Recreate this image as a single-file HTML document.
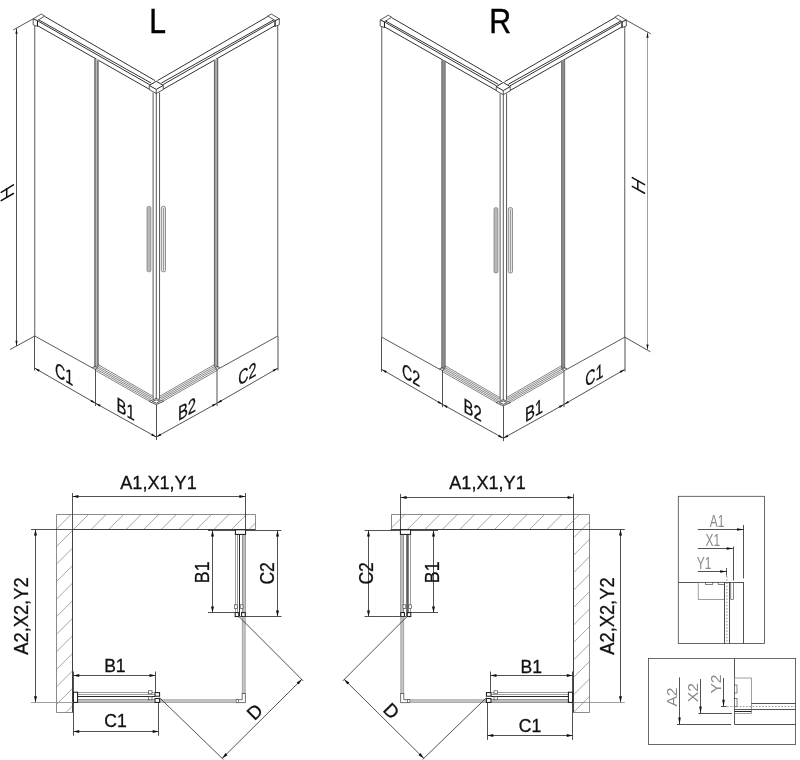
<!DOCTYPE html>
<html><head><meta charset="utf-8"><title>Shower enclosure dimensions</title>
<style>
html,body{margin:0;padding:0;background:#fff}
body{width:800px;height:760px;overflow:hidden}
svg{display:block;filter:grayscale(1)}
text{font-family:"Liberation Sans",sans-serif}
.t{fill:#111;stroke:#111;stroke-width:.3}
.tt{fill:#8a8a8a}
.big{fill:#000;stroke:#000;stroke-width:.45}
.e{stroke:#505050;stroke-width:.95;fill:none}
.e2{stroke:#333;stroke-width:1;fill:none}
.k{stroke:#111;stroke-width:.9;fill:none}
.k3{stroke:#5c5c5c;stroke-width:2.2;fill:none}
.k2{stroke:#333;stroke-width:.7;fill:#fff}
.kb{stroke:#111;stroke-width:1;fill:#fff}
.ks{stroke:#333;stroke-width:.6;fill:#fff}
.g{stroke:#6c6c6c;stroke-width:1.4;fill:none}
.g3{stroke:#7a7a7a;stroke-width:1.2;fill:none}
.g2{stroke:#777;stroke-width:.7;fill:none}
.r{stroke:#444;stroke-width:.65;fill:none}
.d{stroke:#333;stroke-width:.85;fill:none}
.d2{stroke:#888;stroke-width:.8;fill:none}
.w{stroke:#6e6e6e;stroke-width:.8;fill:none}
.h{stroke:#6a6a6a;stroke-width:.6;fill:none}
.hg{stroke:#111;stroke-width:1.5;fill:none;stroke-linecap:round}
.ah{fill:#111;stroke:none}
.fr{stroke:#444;stroke-width:.8;fill:none}
.fr2{stroke:#777;stroke-width:.7;fill:none}
.dt{stroke:#777;stroke-width:.8;stroke-dasharray:1.6 1.6;fill:none}
</style></head><body>
<svg width="800" height="760" viewBox="0 0 800 760">
<defs><clipPath id="wc2"><path d="M589.5 514.5 L391.5 514.5 L391.5 529.5 L573.5 529.5 L573.5 712.5 L589.5 712.5 Z"/></clipPath><clipPath id="wc"><path d="M56.5 514.5 L255.5 514.5 L255.5 529.5 L72.5 529.5 L72.5 712.5 L56.5 712.5 Z"/></clipPath></defs>
<rect width="800" height="760" fill="#fff"/>
<g id="isoL">
<g>
<path class="e" d="M33.2 18.8 L41.25 14 L44.7 16 L37.4 20.6 Z"/>
<path class="e" d="M33.2 18.8 L37.4 20.6 L37.4 26.4 L33.2 24.8 Z"/>
<line class="k" x1="37.5" y1="20.6" x2="37.5" y2="26.4"/>
<line class="e2" x1="44.6" y1="16.4" x2="155" y2="80.6"/>
<line class="e2" x1="38.4" y1="19.7" x2="151.2" y2="83.1"/>
<line class="e2" x1="38.2" y1="21.2" x2="149.6" y2="84.7"/>
<line class="e2" x1="37.4" y1="25.6" x2="149.6" y2="89.4"/>
<line class="e" x1="34.75" y1="25.3" x2="34.75" y2="336"/>
<line class="d" x1="34.5" y1="336" x2="34.5" y2="370.5"/>
<rect x="94.4" y="59" width="4.1" height="308.5" fill="#bcbcbc"/>
<line class="g" x1="95" y1="59" x2="95" y2="367.5"/>
<line class="g" x1="97.9" y1="60.5" x2="97.9" y2="366"/>
<line class="e" x1="34.75" y1="336" x2="93" y2="368.3"/>
<line class="r" x1="98" y1="364.5" x2="153.3" y2="396.6"/>
<line class="r" x1="97.38" y1="366" x2="152.48" y2="397.85"/>
<line class="r" x1="96.75" y1="367.5" x2="151.65" y2="399.1"/>
<line class="r" x1="96.12" y1="369" x2="150.83" y2="400.35"/>
<line class="r" x1="95.5" y1="370.5" x2="150" y2="401.6"/>
<path class="e" d="M92.6 367.6 L95.4 366.2 L97.6 367.6 L95 369.4 Z"/>
<line class="d" x1="95.5" y1="369" x2="95.5" y2="406"/>
</g>
<g transform="translate(312.5 0) scale(-1 1)">
<path class="e" d="M33.2 18.8 L41.25 14 L44.7 16 L37.4 20.6 Z"/>
<path class="e" d="M33.2 18.8 L37.4 20.6 L37.4 26.4 L33.2 24.8 Z"/>
<line class="k" x1="37.5" y1="20.6" x2="37.5" y2="26.4"/>
<line class="e2" x1="44.6" y1="16.4" x2="155" y2="80.6"/>
<line class="e2" x1="38.4" y1="19.7" x2="151.2" y2="83.1"/>
<line class="e2" x1="38.2" y1="21.2" x2="149.6" y2="84.7"/>
<line class="e2" x1="37.4" y1="25.6" x2="149.6" y2="89.4"/>
<line class="e" x1="34.75" y1="25.3" x2="34.75" y2="336"/>
<line class="d" x1="34.5" y1="336" x2="34.5" y2="370.5"/>
<rect x="94.4" y="59" width="4.1" height="308.5" fill="#bcbcbc"/>
<line class="g" x1="95" y1="59" x2="95" y2="367.5"/>
<line class="g" x1="97.9" y1="60.5" x2="97.9" y2="366"/>
<line class="e" x1="34.75" y1="336" x2="93" y2="368.3"/>
<line class="r" x1="98" y1="364.5" x2="153.3" y2="396.6"/>
<line class="r" x1="97.38" y1="366" x2="152.48" y2="397.85"/>
<line class="r" x1="96.75" y1="367.5" x2="151.65" y2="399.1"/>
<line class="r" x1="96.12" y1="369" x2="150.83" y2="400.35"/>
<line class="r" x1="95.5" y1="370.5" x2="150" y2="401.6"/>
<path class="e" d="M92.6 367.6 L95.4 366.2 L97.6 367.6 L95 369.4 Z"/>
<line class="d" x1="95.5" y1="369" x2="95.5" y2="406"/>
</g>
<path class="k" d="M149.25 85.4 L156.25 81.3 L163.25 85.4 L156.25 89.4 Z"/>
<path class="e" d="M149.25 85.4 L149.25 89.6 L156.25 93.5 L163.25 89.6 L163.25 85.4"/>
<line class="e" x1="156.25" y1="89.4" x2="156.25" y2="93.5"/>
<line class="e" x1="153.1" y1="92.5" x2="153.1" y2="399"/>
<line class="e" x1="156.3" y1="92.5" x2="156.3" y2="399"/>
<line class="e" x1="159.55" y1="92.5" x2="159.55" y2="399"/>
<rect x="147" y="206.4" width="3.9" height="65.4" rx="1.6" fill="#b8b8b8" stroke="#777" stroke-width="0.7"/>
<rect x="161.3" y="206.4" width="4.2" height="65.4" rx="1.6" fill="#e6e6e6" stroke="#666" stroke-width="0.7"/>
<line class="g2" x1="163.5" y1="208" x2="163.5" y2="270.5"/>
<path class="e" d="M149.05 401.4 L156.25 398.4 L163.45 401.4 L156.25 404.6 Z"/>
<path class="e" d="M152.25 401.4 L156.25 399.8 L160.25 401.4 L156.25 403.1 Z"/>
<line class="d" x1="156.5" y1="404.6" x2="156.5" y2="440"/>
<line class="d" x1="34.75" y1="368.2" x2="95.6" y2="403.3"/>
<path class="ah" d="M34.75 368.2 L39.8 369.85 L38.7 371.75 Z"/>
<path class="ah" d="M95.6 403.3 L90.55 401.65 L91.65 399.75 Z"/>
<line class="d" x1="95.6" y1="403.3" x2="156.25" y2="437"/>
<path class="ah" d="M95.6 403.3 L100.68 404.86 L99.61 406.79 Z"/>
<path class="ah" d="M156.25 437 L151.17 435.44 L152.24 433.51 Z"/>
<line class="d" x1="156.25" y1="437" x2="216.9" y2="403.3"/>
<path class="ah" d="M156.25 437 L160.26 433.51 L161.33 435.44 Z"/>
<path class="ah" d="M216.9 403.3 L212.89 406.79 L211.82 404.86 Z"/>
<line class="d" x1="216.9" y1="403.3" x2="277.75" y2="368.2"/>
<path class="ah" d="M216.9 403.3 L220.85 399.75 L221.95 401.65 Z"/>
<path class="ah" d="M277.75 368.2 L273.8 371.75 L272.7 369.85 Z"/>
<text class="t" transform="translate(64 380.9) skewY(30)" font-size="20.3" text-anchor="middle" textLength="18.2" lengthAdjust="spacingAndGlyphs">C1</text>
<text class="t" transform="translate(125.6 415.9) skewY(30)" font-size="20.3" text-anchor="middle" textLength="18.2" lengthAdjust="spacingAndGlyphs">B1</text>
<text class="t" transform="translate(187 416.1) skewY(-30)" font-size="20.3" text-anchor="middle" textLength="18.2" lengthAdjust="spacingAndGlyphs">B2</text>
<text class="t" transform="translate(247.3 380.7) skewY(-30)" font-size="20.3" text-anchor="middle" textLength="18.2" lengthAdjust="spacingAndGlyphs">C2</text>
<line class="d" x1="16.5" y1="28.5" x2="16.5" y2="346"/>
<path class="ah" d="M16.5 28.5 L17.6 33.7 L15.4 33.7 Z"/>
<path class="ah" d="M16.5 346 L15.4 340.8 L17.6 340.8 Z"/>
<line class="d" x1="33.2" y1="18.8" x2="13.3" y2="29.9"/>
<line class="d" x1="34.75" y1="336" x2="10" y2="349.6"/>
<line class="hg" x1="1.2" y1="192.4" x2="13.4" y2="184.9"/>
<line class="hg" x1="1.2" y1="200.6" x2="13.4" y2="193.5"/>
<line class="hg" x1="6.7" y1="188.8" x2="6.7" y2="197.3"/>
</g>
<g id="isoR" transform="translate(347 1.2)">
<g>
<path class="e" d="M33.2 18.8 L41.25 14 L44.7 16 L37.4 20.6 Z"/>
<path class="e" d="M33.2 18.8 L37.4 20.6 L37.4 26.4 L33.2 24.8 Z"/>
<line class="k" x1="37.5" y1="20.6" x2="37.5" y2="26.4"/>
<line class="e2" x1="44.6" y1="16.4" x2="155" y2="80.6"/>
<line class="e2" x1="38.4" y1="19.7" x2="151.2" y2="83.1"/>
<line class="e2" x1="38.2" y1="21.2" x2="149.6" y2="84.7"/>
<line class="e2" x1="37.4" y1="25.6" x2="149.6" y2="89.4"/>
<line class="e" x1="34.75" y1="25.3" x2="34.75" y2="336"/>
<line class="d" x1="34.5" y1="336" x2="34.5" y2="370.5"/>
<rect x="94.4" y="59" width="4.1" height="308.5" fill="#8e8e8e"/>
<line class="g3" x1="95" y1="59" x2="95" y2="367.5"/>
<line class="g3" x1="97.9" y1="60.5" x2="97.9" y2="366"/>
<line class="e" x1="34.75" y1="336" x2="93" y2="368.3"/>
<line class="r" x1="98" y1="364.5" x2="153.3" y2="396.6"/>
<line class="r" x1="97.38" y1="366" x2="152.48" y2="397.85"/>
<line class="r" x1="96.75" y1="367.5" x2="151.65" y2="399.1"/>
<line class="r" x1="96.12" y1="369" x2="150.83" y2="400.35"/>
<line class="r" x1="95.5" y1="370.5" x2="150" y2="401.6"/>
<path class="e" d="M92.6 367.6 L95.4 366.2 L97.6 367.6 L95 369.4 Z"/>
<line class="d" x1="95.5" y1="369" x2="95.5" y2="406"/>
</g>
<g transform="translate(312.5 0) scale(-1 1)">
<path class="e" d="M33.2 18.8 L41.25 14 L44.7 16 L37.4 20.6 Z"/>
<path class="e" d="M33.2 18.8 L37.4 20.6 L37.4 26.4 L33.2 24.8 Z"/>
<line class="k" x1="37.5" y1="20.6" x2="37.5" y2="26.4"/>
<line class="e2" x1="44.6" y1="16.4" x2="155" y2="80.6"/>
<line class="e2" x1="38.4" y1="19.7" x2="151.2" y2="83.1"/>
<line class="e2" x1="38.2" y1="21.2" x2="149.6" y2="84.7"/>
<line class="e2" x1="37.4" y1="25.6" x2="149.6" y2="89.4"/>
<line class="e" x1="34.75" y1="25.3" x2="34.75" y2="336"/>
<line class="d" x1="34.5" y1="336" x2="34.5" y2="370.5"/>
<rect x="94.4" y="59" width="4.1" height="308.5" fill="#8e8e8e"/>
<line class="g3" x1="95" y1="59" x2="95" y2="367.5"/>
<line class="g3" x1="97.9" y1="60.5" x2="97.9" y2="366"/>
<line class="e" x1="34.75" y1="336" x2="93" y2="368.3"/>
<line class="r" x1="98" y1="364.5" x2="153.3" y2="396.6"/>
<line class="r" x1="97.38" y1="366" x2="152.48" y2="397.85"/>
<line class="r" x1="96.75" y1="367.5" x2="151.65" y2="399.1"/>
<line class="r" x1="96.12" y1="369" x2="150.83" y2="400.35"/>
<line class="r" x1="95.5" y1="370.5" x2="150" y2="401.6"/>
<path class="e" d="M92.6 367.6 L95.4 366.2 L97.6 367.6 L95 369.4 Z"/>
<line class="d" x1="95.5" y1="369" x2="95.5" y2="406"/>
</g>
<path class="k" d="M149.25 85.4 L156.25 81.3 L163.25 85.4 L156.25 89.4 Z"/>
<path class="e" d="M149.25 85.4 L149.25 89.6 L156.25 93.5 L163.25 89.6 L163.25 85.4"/>
<line class="e" x1="156.25" y1="89.4" x2="156.25" y2="93.5"/>
<line class="e" x1="153.1" y1="92.5" x2="153.1" y2="399"/>
<line class="e" x1="156.3" y1="92.5" x2="156.3" y2="399"/>
<line class="e" x1="159.55" y1="92.5" x2="159.55" y2="399"/>
<rect x="147" y="206.4" width="3.9" height="65.4" rx="1.6" fill="#b8b8b8" stroke="#777" stroke-width="0.7"/>
<rect x="161.3" y="206.4" width="4.2" height="65.4" rx="1.6" fill="#e6e6e6" stroke="#666" stroke-width="0.7"/>
<line class="g2" x1="163.5" y1="208" x2="163.5" y2="270.5"/>
<path class="e" d="M149.05 401.4 L156.25 398.4 L163.45 401.4 L156.25 404.6 Z"/>
<path class="e" d="M152.25 401.4 L156.25 399.8 L160.25 401.4 L156.25 403.1 Z"/>
<line class="d" x1="156.5" y1="404.6" x2="156.5" y2="440"/>
<line class="d" x1="34.75" y1="368.2" x2="95.6" y2="403.3"/>
<path class="ah" d="M34.75 368.2 L39.8 369.85 L38.7 371.75 Z"/>
<path class="ah" d="M95.6 403.3 L90.55 401.65 L91.65 399.75 Z"/>
<line class="d" x1="95.6" y1="403.3" x2="156.25" y2="437"/>
<path class="ah" d="M95.6 403.3 L100.68 404.86 L99.61 406.79 Z"/>
<path class="ah" d="M156.25 437 L151.17 435.44 L152.24 433.51 Z"/>
<line class="d" x1="156.25" y1="437" x2="216.9" y2="403.3"/>
<path class="ah" d="M156.25 437 L160.26 433.51 L161.33 435.44 Z"/>
<path class="ah" d="M216.9 403.3 L212.89 406.79 L211.82 404.86 Z"/>
<line class="d" x1="216.9" y1="403.3" x2="277.75" y2="368.2"/>
<path class="ah" d="M216.9 403.3 L220.85 399.75 L221.95 401.65 Z"/>
<path class="ah" d="M277.75 368.2 L273.8 371.75 L272.7 369.85 Z"/>
<text class="t" transform="translate(64 380.9) skewY(30)" font-size="20.3" text-anchor="middle" textLength="18.2" lengthAdjust="spacingAndGlyphs">C2</text>
<text class="t" transform="translate(125.6 415.9) skewY(30)" font-size="20.3" text-anchor="middle" textLength="18.2" lengthAdjust="spacingAndGlyphs">B2</text>
<text class="t" transform="translate(187 416.1) skewY(-30)" font-size="20.3" text-anchor="middle" textLength="18.2" lengthAdjust="spacingAndGlyphs">B1</text>
<text class="t" transform="translate(247.3 380.7) skewY(-30)" font-size="20.3" text-anchor="middle" textLength="18.2" lengthAdjust="spacingAndGlyphs">C1</text>
<line class="d2" x1="300.5" y1="31.3" x2="300.5" y2="348.55"/>
<path class="ah" d="M300.5 31.3 L301.6 36.5 L299.4 36.5 Z"/>
<path class="ah" d="M300.5 348.55 L299.4 343.35 L301.6 343.35 Z"/>
<line class="d" x1="278.8" y1="18.7" x2="303.8" y2="32.7"/>
<line class="d" x1="277.5" y1="335.8" x2="303.4" y2="350.6"/>
<line class="hg" x1="285.3" y1="176.4" x2="297.6" y2="183.4"/>
<line class="hg" x1="285.3" y1="185.1" x2="297.6" y2="192.05"/>
<line class="hg" x1="290.8" y1="179.6" x2="290.8" y2="188"/>
</g>
<text class="big" x="157.7" y="32.9" font-size="34.6" text-anchor="middle" textLength="16.75" lengthAdjust="spacingAndGlyphs">L</text>
<text class="big" x="500.25" y="32.5" font-size="34.5" text-anchor="middle" textLength="21.9" lengthAdjust="spacingAndGlyphs">R</text>
<g>
<path class="w" d="M56.5 514.5 L255.5 514.5 L255.5 529.5 L72.5 529.5 L72.5 712.5 L56.5 712.5 Z"/>
<g clip-path="url(#wc)">
<line class="h" x1="-192.1" y1="760" x2="87.9" y2="480"/>
<line class="h" x1="-174.55" y1="760" x2="105.45" y2="480"/>
<line class="h" x1="-157" y1="760" x2="123" y2="480"/>
<line class="h" x1="-139.45" y1="760" x2="140.55" y2="480"/>
<line class="h" x1="-121.9" y1="760" x2="158.1" y2="480"/>
<line class="h" x1="-104.35" y1="760" x2="175.65" y2="480"/>
<line class="h" x1="-86.8" y1="760" x2="193.2" y2="480"/>
<line class="h" x1="-69.25" y1="760" x2="210.75" y2="480"/>
<line class="h" x1="-51.7" y1="760" x2="228.3" y2="480"/>
<line class="h" x1="-34.15" y1="760" x2="245.85" y2="480"/>
<line class="h" x1="-16.6" y1="760" x2="263.4" y2="480"/>
<line class="h" x1="0.95" y1="760" x2="280.95" y2="480"/>
<line class="h" x1="18.5" y1="760" x2="298.5" y2="480"/>
<line class="h" x1="36.05" y1="760" x2="316.05" y2="480"/>
</g>
<line class="d" x1="72.4" y1="529.5" x2="255.4" y2="529.5"/>
<line class="d" x1="72.5" y1="529.4" x2="72.5" y2="712.5"/>
<line class="d" x1="72.4" y1="496.5" x2="245.4" y2="496.5"/>
<path class="ah" d="M72.4 496.5 L78.4 495 L78.4 498 Z"/>
<path class="ah" d="M245.4 496.5 L239.4 498 L239.4 495 Z"/>
<line class="d" x1="72.5" y1="493" x2="72.5" y2="529.4"/>
<line class="d" x1="245.5" y1="493" x2="245.5" y2="530"/>
<line class="d" x1="35.5" y1="529.4" x2="35.5" y2="702.2"/>
<path class="ah" d="M35.5 529.4 L37 535.4 L34 535.4 Z"/>
<path class="ah" d="M35.5 702.2 L34 696.2 L37 696.2 Z"/>
<line class="d" x1="31" y1="529.5" x2="72.4" y2="529.5"/>
<line class="d2" x1="31" y1="702.5" x2="73.2" y2="702.5"/>
<rect x="242.3" y="534.5" width="2.7" height="82.3" fill="#bdbdbd"/>
<line class="g2" x1="235.5" y1="534.5" x2="235.5" y2="612.5"/>
<line class="g2" x1="237.5" y1="534.5" x2="237.5" y2="612.5"/>
<line class="k" x1="239.5" y1="534.5" x2="239.5" y2="616.5"/>
<line class="g2" x1="245.5" y1="534.5" x2="245.5" y2="616.8"/>
<line class="g2" x1="242.5" y1="534.5" x2="242.5" y2="616.8"/>
<rect class="kb" x="235.4" y="529.8" width="10.2" height="4.6"/>
<rect class="ks" x="234.6" y="604.8" width="2.6" height="3.6"/><rect class="ks" x="240.2" y="604.8" width="2.8" height="3.6"/>
<rect class="kb" x="235.2" y="612.6" width="3.6" height="4"/><rect class="kb" x="241.6" y="612.6" width="3.6" height="4"/>
<rect x="242.2" y="616.8" width="3" height="77" fill="#c4c4c4" stroke="#8a8a8a" stroke-width="0.6"/>
<path class="k2" d="M242.2 693.5 L245.4 693.5 L245.4 702.6 L236 702.6 L236 699.7 L242.2 699.7 Z"/>
<rect class="ks" x="236" y="699.7" width="2.6" height="2.9"/>
<rect x="160" y="699.8" width="76" height="2.8" fill="#c4c4c4" stroke="#8a8a8a" stroke-width="0.6"/>
<rect x="77.6" y="699.9" width="77" height="2.6" fill="#bdbdbd"/>
<line class="g2" x1="77.6" y1="692.5" x2="154.6" y2="692.5"/>
<line class="g2" x1="77.6" y1="694.5" x2="154.6" y2="694.5"/>
<line class="k" x1="76" y1="696.5" x2="155" y2="696.5"/>
<line class="g2" x1="77.6" y1="699.5" x2="155" y2="699.5"/>
<line class="g2" x1="77.6" y1="702.5" x2="160" y2="702.5"/>
<rect class="kb" x="73.4" y="692.2" width="4.2" height="10.2"/>
<rect class="ks" x="148.6" y="690.8" width="3.4" height="3"/><rect class="ks" x="148.6" y="696.8" width="3.4" height="3"/>
<rect class="kb" x="155" y="692.6" width="4.6" height="3.6"/><rect class="kb" x="155" y="698.6" width="4.6" height="3.8"/>
<line class="d" x1="212.5" y1="530.6" x2="212.5" y2="612.5"/>
<path class="ah" d="M212.5 530.6 L214 536.6 L211 536.6 Z"/>
<path class="ah" d="M212.5 612.5 L211 606.5 L214 606.5 Z"/>
<line class="d" x1="208" y1="530.5" x2="235.4" y2="530.5"/>
<line class="d" x1="208" y1="612.5" x2="235" y2="612.5"/>
<line class="d" x1="277.5" y1="530.4" x2="277.5" y2="616.4"/>
<path class="ah" d="M277.5 530.4 L279 536.4 L276 536.4 Z"/>
<path class="ah" d="M277.5 616.4 L276 610.4 L279 610.4 Z"/>
<line class="d" x1="245.6" y1="530.5" x2="281.4" y2="530.5"/>
<line class="d" x1="240" y1="616.5" x2="281.5" y2="616.5"/>
<line class="d" x1="73.25" y1="675.5" x2="155.5" y2="675.5"/>
<path class="ah" d="M73.25 675.5 L79.25 674 L79.25 677 Z"/>
<path class="ah" d="M155.5 675.5 L149.5 677 L149.5 674 Z"/>
<line class="d" x1="73.5" y1="671.5" x2="73.5" y2="692"/>
<line class="d" x1="155.5" y1="671.5" x2="155.5" y2="692"/>
<line class="d" x1="73.25" y1="731.5" x2="158.7" y2="731.5"/>
<path class="ah" d="M73.25 731.5 L79.25 730 L79.25 733 Z"/>
<path class="ah" d="M158.7 731.5 L152.7 733 L152.7 730 Z"/>
<line class="d" x1="73.5" y1="703" x2="73.5" y2="735.7"/>
<line class="d" x1="158.5" y1="702.5" x2="158.5" y2="735.7"/>
<line class="d" x1="239.4" y1="617" x2="303.2" y2="680.9"/>
<line class="d" x1="159.6" y1="697.75" x2="223.4" y2="759.5"/>
<line class="d" x1="301.9" y1="679.3" x2="222.25" y2="758.3"/>
<path class="ah" d="M301.9 679.3 L298.7 684.59 L296.58 682.46 Z"/>
<path class="ah" d="M222.25 758.3 L225.45 753.01 L227.57 755.14 Z"/>
</g>
<text class="t" transform="translate(158.5 489) " font-size="18.6" text-anchor="middle" textLength="76.5" lengthAdjust="spacingAndGlyphs">A1,X1,Y1</text>
<text class="t" transform="translate(28 616.1) rotate(-90)" font-size="20.2" text-anchor="middle" textLength="77.3" lengthAdjust="spacingAndGlyphs">A2,X2,Y2</text>
<text class="t" transform="translate(209 572.35) rotate(-90)" font-size="20" text-anchor="middle" textLength="21.8" lengthAdjust="spacingAndGlyphs">B1</text>
<text class="t" transform="translate(273.6 573.35) rotate(-90)" font-size="20" text-anchor="middle" textLength="22.4" lengthAdjust="spacingAndGlyphs">C2</text>
<text class="t" transform="translate(114.9 672.25) " font-size="18.8" text-anchor="middle" textLength="21.5" lengthAdjust="spacingAndGlyphs">B1</text>
<text class="t" transform="translate(115.6 727.4) " font-size="18.8" text-anchor="middle" textLength="22.5" lengthAdjust="spacingAndGlyphs">C1</text>
<text class="t" transform="translate(254.5 711.6) rotate(-45) translate(0 6.7)" font-size="18.8" text-anchor="middle">D</text>
<g transform="translate(646 0) scale(-1 1)">
<path class="w" d="M56.5 514.5 L254.5 514.5 L254.5 529.5 L72.5 529.5 L72.5 712.5 L56.5 712.5 Z"/>
<line class="d" x1="72.4" y1="529.5" x2="255.4" y2="529.5"/>
<line class="d" x1="72.5" y1="529.4" x2="72.5" y2="712.5"/>
<line class="d" x1="72.4" y1="497.5" x2="245.4" y2="497.5"/>
<path class="ah" d="M72.4 497.5 L78.4 496 L78.4 499 Z"/>
<path class="ah" d="M245.4 497.5 L239.4 499 L239.4 496 Z"/>
<line class="d" x1="72.5" y1="493.9" x2="72.5" y2="529.4"/>
<line class="d" x1="245.5" y1="493.9" x2="245.5" y2="530"/>
<line class="d" x1="25.5" y1="529.4" x2="25.5" y2="702.2"/>
<path class="ah" d="M25.5 529.4 L27 535.4 L24 535.4 Z"/>
<path class="ah" d="M25.5 702.2 L24 696.2 L27 696.2 Z"/>
<line class="d" x1="21.2" y1="529.5" x2="72.4" y2="529.5"/>
<line class="d2" x1="21.2" y1="702.5" x2="73.2" y2="702.5"/>
<rect x="242.3" y="534.5" width="2.7" height="82.3" fill="#bdbdbd"/>
<line class="g2" x1="235.5" y1="534.5" x2="235.5" y2="612.5"/>
<line class="g2" x1="237.5" y1="534.5" x2="237.5" y2="612.5"/>
<line class="k3" x1="238.7" y1="534.5" x2="238.7" y2="616.5"/>
<line class="g2" x1="245.5" y1="534.5" x2="245.5" y2="616.8"/>
<line class="g2" x1="242.5" y1="534.5" x2="242.5" y2="616.8"/>
<rect class="kb" x="235.4" y="529.8" width="10.2" height="4.6"/>
<rect class="ks" x="234.6" y="604.8" width="2.6" height="3.6"/><rect class="ks" x="240.2" y="604.8" width="2.8" height="3.6"/>
<rect class="kb" x="235.2" y="612.6" width="3.6" height="4"/><rect class="kb" x="241.6" y="612.6" width="3.6" height="4"/>
<rect x="242.2" y="616.8" width="3" height="77" fill="#c4c4c4" stroke="#8a8a8a" stroke-width="0.6"/>
<path class="k2" d="M242.2 693.5 L245.4 693.5 L245.4 702.6 L236 702.6 L236 699.7 L242.2 699.7 Z"/>
<rect class="ks" x="236" y="699.7" width="2.6" height="2.9"/>
<rect x="160" y="699.8" width="76" height="2.8" fill="#c4c4c4" stroke="#8a8a8a" stroke-width="0.6"/>
<rect x="77.6" y="699.9" width="77" height="2.6" fill="#bdbdbd"/>
<line class="g2" x1="77.6" y1="692.5" x2="154.6" y2="692.5"/>
<line class="g2" x1="77.6" y1="694.5" x2="154.6" y2="694.5"/>
<line class="k" x1="76" y1="696.5" x2="155" y2="696.5"/>
<line class="g2" x1="77.6" y1="699.5" x2="155" y2="699.5"/>
<line class="g2" x1="77.6" y1="702.5" x2="160" y2="702.5"/>
<rect class="kb" x="73.4" y="692.2" width="4.2" height="10.2"/>
<rect class="ks" x="148.6" y="690.8" width="3.4" height="3"/><rect class="ks" x="148.6" y="696.8" width="3.4" height="3"/>
<rect class="kb" x="155" y="692.6" width="4.6" height="3.6"/><rect class="kb" x="155" y="698.6" width="4.6" height="3.8"/>
<line class="d" x1="212.5" y1="530.6" x2="212.5" y2="612.5"/>
<path class="ah" d="M212.5 530.6 L214 536.6 L211 536.6 Z"/>
<path class="ah" d="M212.5 612.5 L211 606.5 L214 606.5 Z"/>
<line class="d" x1="208" y1="530.5" x2="235.4" y2="530.5"/>
<line class="d" x1="208" y1="612.5" x2="235" y2="612.5"/>
<line class="d" x1="277.5" y1="530.4" x2="277.5" y2="616.4"/>
<path class="ah" d="M277.5 530.4 L279 536.4 L276 536.4 Z"/>
<path class="ah" d="M277.5 616.4 L276 610.4 L279 610.4 Z"/>
<line class="d" x1="245.6" y1="530.5" x2="281.4" y2="530.5"/>
<line class="d" x1="240" y1="616.5" x2="281.5" y2="616.5"/>
<line class="d" x1="73.25" y1="675.5" x2="155.5" y2="675.5"/>
<path class="ah" d="M73.25 675.5 L79.25 674 L79.25 677 Z"/>
<path class="ah" d="M155.5 675.5 L149.5 677 L149.5 674 Z"/>
<line class="d" x1="73.5" y1="671.5" x2="73.5" y2="692"/>
<line class="d" x1="155.5" y1="671.5" x2="155.5" y2="692"/>
<line class="d" x1="73.25" y1="735.5" x2="158.7" y2="735.5"/>
<path class="ah" d="M73.25 735.5 L79.25 734 L79.25 737 Z"/>
<path class="ah" d="M158.7 735.5 L152.7 737 L152.7 734 Z"/>
<line class="d" x1="73.5" y1="703" x2="73.5" y2="739.9"/>
<line class="d" x1="158.5" y1="702.5" x2="158.5" y2="739.9"/>
<line class="d" x1="239.4" y1="617" x2="303.2" y2="680.9"/>
<line class="d" x1="159.6" y1="697.75" x2="223.4" y2="759.5"/>
<line class="d" x1="301.9" y1="679.3" x2="222.25" y2="758.3"/>
<path class="ah" d="M301.9 679.3 L298.7 684.59 L296.58 682.46 Z"/>
<path class="ah" d="M222.25 758.3 L225.45 753.01 L227.57 755.14 Z"/>
</g>
<g clip-path="url(#wc2)">
<line class="h" x1="141.95" y1="760" x2="421.95" y2="480"/>
<line class="h" x1="159.4" y1="760" x2="439.4" y2="480"/>
<line class="h" x1="176.85" y1="760" x2="456.85" y2="480"/>
<line class="h" x1="194.3" y1="760" x2="474.3" y2="480"/>
<line class="h" x1="211.75" y1="760" x2="491.75" y2="480"/>
<line class="h" x1="229.2" y1="760" x2="509.2" y2="480"/>
<line class="h" x1="246.65" y1="760" x2="526.65" y2="480"/>
<line class="h" x1="264.1" y1="760" x2="544.1" y2="480"/>
<line class="h" x1="281.55" y1="760" x2="561.55" y2="480"/>
<line class="h" x1="299" y1="760" x2="579" y2="480"/>
<line class="h" x1="316.45" y1="760" x2="596.45" y2="480"/>
<line class="h" x1="333.9" y1="760" x2="613.9" y2="480"/>
<line class="h" x1="351.35" y1="760" x2="631.35" y2="480"/>
<line class="h" x1="368.8" y1="760" x2="648.8" y2="480"/>
<line class="h" x1="386.25" y1="760" x2="666.25" y2="480"/>
<line class="h" x1="403.7" y1="760" x2="683.7" y2="480"/>
<line class="h" x1="421.15" y1="760" x2="701.15" y2="480"/>
<line class="h" x1="438.6" y1="760" x2="718.6" y2="480"/>
<line class="h" x1="456.05" y1="760" x2="736.05" y2="480"/>
<line class="h" x1="473.5" y1="760" x2="753.5" y2="480"/>
<line class="h" x1="490.95" y1="760" x2="770.95" y2="480"/>
<line class="h" x1="508.4" y1="760" x2="788.4" y2="480"/>
<line class="h" x1="525.85" y1="760" x2="805.85" y2="480"/>
<line class="h" x1="543.3" y1="760" x2="823.3" y2="480"/>
</g>
<text class="t" transform="translate(487.5 489.3) " font-size="18.6" text-anchor="middle" textLength="76.5" lengthAdjust="spacingAndGlyphs">A1,X1,Y1</text>
<text class="t" transform="translate(613.6 616.1) rotate(-90)" font-size="20.2" text-anchor="middle" textLength="77.3" lengthAdjust="spacingAndGlyphs">A2,X2,Y2</text>
<text class="t" transform="translate(438.6 572.35) rotate(-90)" font-size="20" text-anchor="middle" textLength="21.8" lengthAdjust="spacingAndGlyphs">B1</text>
<text class="t" transform="translate(372.7 573.35) rotate(-90)" font-size="20" text-anchor="middle" textLength="22.4" lengthAdjust="spacingAndGlyphs">C2</text>
<text class="t" transform="translate(531.2 672.5) " font-size="18.8" text-anchor="middle" textLength="21.5" lengthAdjust="spacingAndGlyphs">B1</text>
<text class="t" transform="translate(530.1 731.9) " font-size="18.8" text-anchor="middle" textLength="22.5" lengthAdjust="spacingAndGlyphs">C1</text>
<text class="t" transform="translate(391.5 710.8) rotate(45) translate(0 6.7)" font-size="18.8" text-anchor="middle">D</text>
<rect class="fr" x="678.3" y="496.3" width="86.1" height="147.2"/>
<line class="d" x1="678.3" y1="582.5" x2="743.8" y2="582.5"/>
<line class="d" x1="743.5" y1="525" x2="743.5" y2="578.4"/>
<line class="d" x1="743.5" y1="582.3" x2="743.5" y2="643.5"/>
<line class="d" x1="697.8" y1="529.5" x2="743.8" y2="529.5"/>
<path class="ah" d="M743.8 529.5 L737 530.8 L737 528.2 Z"/>
<line class="d" x1="697.8" y1="548.5" x2="733.4" y2="548.5"/>
<path class="ah" d="M733.4 548.5 L726.6 549.8 L726.6 547.2 Z"/>
<line class="d" x1="697.8" y1="571.5" x2="726.9" y2="571.5"/>
<path class="ah" d="M726.9 571.5 L720.1 572.8 L720.1 570.2 Z"/>
<line class="d" x1="733.5" y1="546.5" x2="733.5" y2="580.5"/>
<line class="d" x1="726.5" y1="568" x2="726.5" y2="575.5"/>
<line class="dt" x1="726.9" y1="576" x2="726.9" y2="643.5"/>
<rect class="fr2" x="698.2" y="582.3" width="26.1" height="17.1"/>
<rect class="ks" x="705.4" y="582.3" width="7.4" height="2.2"/><rect class="ks" x="718.2" y="582.3" width="6.4" height="2.2"/>
<line class="d" x1="724.5" y1="582.3" x2="724.5" y2="643.5"/>
<line class="d" x1="729.5" y1="582.3" x2="729.5" y2="643.5"/>
<rect class="ks" x="730.8" y="582.3" width="2.6" height="17.1"/>
<text class="tt" transform="translate(717.1 526.7) " font-size="16" text-anchor="middle" textLength="14.6" lengthAdjust="spacingAndGlyphs">A1</text>
<text class="tt" transform="translate(712.8 545.8) " font-size="16" text-anchor="middle" textLength="14.6" lengthAdjust="spacingAndGlyphs">X1</text>
<text class="tt" transform="translate(704.1 568.6) " font-size="16" text-anchor="middle" textLength="14.6" lengthAdjust="spacingAndGlyphs">Y1</text>
<rect class="fr" x="648.4" y="658.4" width="147.2" height="86"/>
<line class="d" x1="734.5" y1="658.4" x2="734.5" y2="724.4"/>
<line class="d" x1="734.4" y1="724.5" x2="795.6" y2="724.5"/>
<line class="d" x1="677" y1="724.5" x2="731" y2="724.5"/>
<line class="d" x1="679.5" y1="677.4" x2="679.5" y2="724.4"/>
<path class="ah" d="M679.5 724.4 L678.2 717.6 L680.8 717.6 Z"/>
<line class="d" x1="700.5" y1="679" x2="700.5" y2="713.4"/>
<path class="ah" d="M700.5 713.4 L699.2 706.6 L701.8 706.6 Z"/>
<line class="d" x1="723.5" y1="678" x2="723.5" y2="706.6"/>
<path class="ah" d="M723.5 706.6 L722.2 699.8 L724.8 699.8 Z"/>
<line class="d" x1="698.4" y1="713.5" x2="732" y2="713.5"/>
<line class="d" x1="721" y1="706.5" x2="726.5" y2="706.5"/>
<line class="dt" x1="727" y1="706.6" x2="795.6" y2="706.6"/>
<rect class="fr2" x="734.4" y="678" width="17" height="35.4"/>
<rect class="ks" x="734.4" y="685" width="2.6" height="8"/><rect class="ks" x="734.4" y="698.6" width="2.6" height="8"/>
<line class="d" x1="751.4" y1="703.5" x2="795.6" y2="703.5"/>
<line class="d" x1="734.4" y1="709.5" x2="795.6" y2="709.5"/>
<line class="k" x1="734.4" y1="711.5" x2="751.4" y2="711.5"/>
<text class="tt" transform="translate(676.6 697) rotate(-90)" font-size="15.4" text-anchor="middle" textLength="19.2" lengthAdjust="spacingAndGlyphs">A2</text>
<text class="tt" transform="translate(698 692.6) rotate(-90)" font-size="15.4" text-anchor="middle" textLength="19.2" lengthAdjust="spacingAndGlyphs">X2</text>
<text class="tt" transform="translate(721.2 684) rotate(-90)" font-size="15.4" text-anchor="middle" textLength="19.2" lengthAdjust="spacingAndGlyphs">Y2</text>
</svg></body></html>
